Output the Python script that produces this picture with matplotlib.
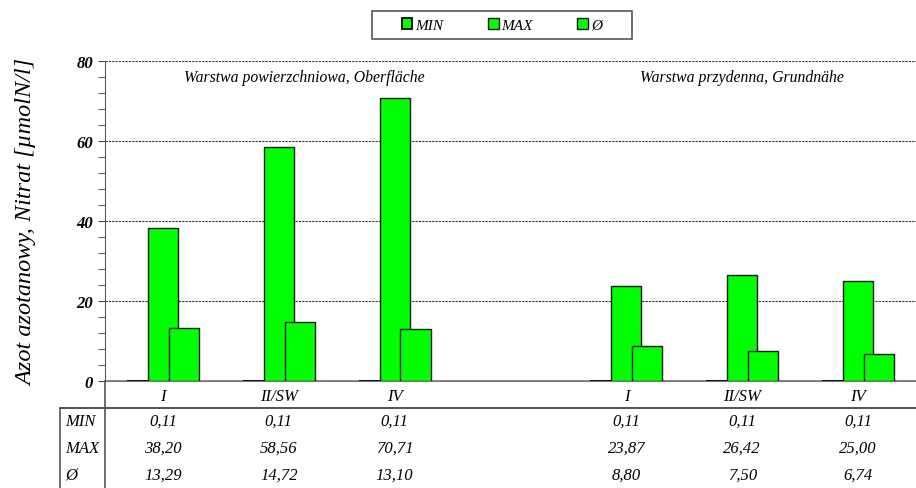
import matplotlib
matplotlib.use("Agg")
import matplotlib.pyplot as plt
from matplotlib.lines import Line2D
from matplotlib.patches import Rectangle
from matplotlib.ticker import MultipleLocator
import matplotlib.transforms as mtrans
import numpy as np

# dane: azot azotanowy [umolN/l]
stations = ["I", "II/SW", "IV", "I", "II/SW", "IV"]
val_min = [0.11, 0.11, 0.11, 0.11, 0.11, 0.11]
val_max = [38.20, 58.56, 70.71, 23.87, 26.42, 25.00]
val_avg = [13.29, 14.72, 13.10, 8.80, 7.50, 6.74]
min_txt = ["0,11", "0,11", "0,11", "0,11", "0,11", "0,11"]
max_txt = ["38,20", "58,56", "70,71", "23,87", "26,42", "25,00"]
avg_txt = ["13,29", "14,72", "13,10", "8,80", "7,50", "6,74"]
series = ["MIN", "MAX", "Ø"]
groups = ["Warstwa powierzchniowa, Oberfläche", "Warstwa przydenna, Grundnähe"]

plt.rcParams['font.family'] = ['Liberation Serif', 'DejaVu Serif']
plt.rcParams['font.style'] = 'italic'

green = '#00ff00'
edge = '#1a1a1a'

fig = plt.figure(figsize=(9.16, 4.89), dpi=100)
ax = fig.add_axes([0.1146, 0.2188, 0.8854, 0.6544])

x = np.r_[0:3, 4:7]
w = 0.26
ax.bar(x - 0.18, val_min, w, color=green, edgecolor='black', linewidth=1.3, zorder=3, label=series[0])
ax.bar(x, val_max, w, color=green, edgecolor=edge, linewidth=1, zorder=4, label=series[1])
ax.bar(x + 0.18, val_avg, w, color=green, edgecolor=edge, linewidth=1, zorder=5, label=series[2])

ax.set_xlim(-0.5, 6.5)
ax.set_ylim(0, 80)
ax.yaxis.set_major_locator(MultipleLocator(20))
ax.yaxis.set_minor_locator(MultipleLocator(4))
ax.tick_params(axis='y', which='both', direction='out', length=5, color='#444', labelsize=12)
for t in ax.get_yticklabels():
    t.set_fontweight('bold')
ax.set_xticks(x)
ax.set_xticklabels(stations, fontsize=12)
ax.tick_params(axis='x', length=0, pad=5)

for v in [20, 40, 60, 80]:
    ax.axhline(v, color='#333', linestyle=(0, (2, 1)), linewidth=0.8, zorder=1)
ax.axhline(0, color='#777', linewidth=1.2, zorder=2)

for s in ['top', 'right']:
    ax.spines[s].set_visible(False)
ax.spines['left'].set_color('#555')
ax.spines['bottom'].set_color('#777')

ax.set_ylabel("Azot azotanowy, Nitrat [µmolN/l]", fontsize=17.5, labelpad=28)

ax.text(1.22, 76, groups[0], ha='center', va='center', fontsize=11.3)
ax.text(5.0, 76, groups[1], ha='center', va='center', fontsize=11.3)

# legenda w ramce
fig.add_artist(Rectangle((372 / 916, 1 - 40 / 489), 260 / 916, 28 / 489,
                         transform=fig.transFigure, facecolor='white',
                         edgecolor='#555', linewidth=1.2))
leg = fig.legend(loc='center', bbox_to_anchor=(0.548, 0.947), ncol=3, fontsize=11,
                 handlelength=0.7, handleheight=0.7, handletextpad=0.2,
                 columnspacing=2.9, frameon=False)

# tabela pod wykresem
tr = mtrans.blended_transform_factory(ax.transData, fig.transFigure)
line_y = 1 - 409 / 489
fig.add_artist(Line2D([60 / 916, 1.0], [line_y, line_y], color='#333', linewidth=1.2))
fig.add_artist(Line2D([60 / 916, 60 / 916], [line_y, 0], color='#555', linewidth=1.2))
fig.add_artist(Line2D([105 / 916, 105 / 916], [0.2188, 0], color='#555', linewidth=1.2))

rows = [(series[0], min_txt, 422), (series[1], max_txt, 449), (series[2], avg_txt, 476)]
for name, vals, py in rows:
    fy = 1 - py / 489
    fig.text(65 / 916, fy, name, ha='left', va='center', fontsize=12)
    for xi, v in zip(x, vals):
        ax.text(xi, fy, v, transform=tr, ha='center', va='center', fontsize=12)

fig.savefig("out.png", dpi=100)
